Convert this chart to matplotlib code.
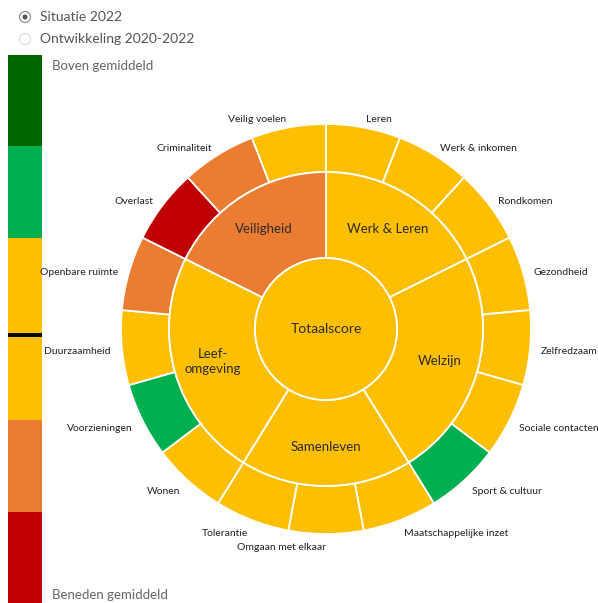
import numpy as np
import matplotlib.pyplot as plt
from matplotlib.patches import Circle

plt.rcParams['font.family'] = ['Lato', 'DejaVu Sans']

# kleuren
GEEL = "#FDBF00"
ORANJE = "#EB7D33"
ROOD = "#C00000"
GROEN = "#00B050"
DONKERGROEN = "#006400"

# buitenring (met de klok mee vanaf boven)
onderwerpen = ["Leren", "Werk & inkomen", "Rondkomen", "Gezondheid", "Zelfredzaam",
               "Sociale contacten", "Sport & cultuur", "Maatschappelijke inzet",
               "Omgaan met elkaar", "Tolerantie", "Wonen", "Voorzieningen",
               "Duurzaamheid", "Openbare ruimte", "Overlast", "Criminaliteit",
               "Veilig voelen"]
kleur_onderwerp = [GEEL, GEEL, GEEL, GEEL, GEEL, GEEL, GROEN, GEEL, GEEL, GEEL,
                   GEEL, GROEN, GEEL, ORANJE, ROOD, ORANJE, GEEL]

# binnenring
thema = ["Werk & Leren", "Welzijn", "Samenleven", "Leef-\nomgeving", "Veiligheid"]
aantal_per_thema = [3, 4, 3, 4, 3]
kleur_thema = [GEEL, GEEL, GEEL, GEEL, ORANJE]

# legenda
legenda_kleuren = [DONKERGROEN, GROEN, GEEL, GEEL, ORANJE, ROOD]

W, H = 598, 603
fig = plt.figure(figsize=(W / 100, H / 100), dpi=100)
ax = fig.add_axes([0, 0, 1, 1])

cx, cy = 326, H - 329
R_buiten, R_midden, R_binnen = 205, 157, 71

ax.pie(np.ones(len(onderwerpen)), colors=kleur_onderwerp, radius=R_buiten,
       center=(cx, cy), startangle=90, counterclock=False,
       wedgeprops=dict(width=R_buiten - R_midden, edgecolor="white", linewidth=1.3))
wedges, _ = ax.pie(aantal_per_thema, colors=kleur_thema, radius=R_midden,
                   center=(cx, cy), startangle=90, counterclock=False,
                   wedgeprops=dict(width=R_midden - R_binnen, edgecolor="white", linewidth=1.3))
ax.add_patch(Circle((cx, cy), R_binnen, facecolor=GEEL, edgecolor="white", linewidth=1.3))
ax.text(cx, cy, "Totaalscore", ha="center", va="center", fontsize=10, color="#2b2b2b")

# labels binnenring
for w, naam in zip(wedges, thema):
    hoek = np.deg2rad((w.theta1 + w.theta2) / 2)
    r = (R_midden + R_binnen) / 2 + 4
    ax.text(cx + r * np.cos(hoek), cy + r * np.sin(hoek), naam, ha="center",
            va="center", fontsize=9.5, color="#2b2b2b", linespacing=1.3)

# labels buitenring
stap = 360 / len(onderwerpen)
for i, naam in enumerate(onderwerpen):
    hoek = 90 - stap * (i + 0.5)
    a = np.deg2rad(hoek)
    x = cx + 216 * np.cos(a)
    y = cy + 216 * np.sin(a) - 3
    links = np.cos(a) < -1e-6 or i == 8
    ax.text(x, y, naam, ha="right" if links else "left", va="center",
            fontsize=7.5, color="#222222")

# legenda balk
seg = (H - 55) / len(legenda_kleuren)
for i, kl in enumerate(legenda_kleuren):
    ax.bar(24.5, seg, width=34, bottom=H - 55 - seg * (i + 1), color=kl, linewidth=0)
ax.bar(24.5, 4, width=34, bottom=H - 55 - 3 * seg - 8, color="black", linewidth=0)
ax.text(52, H - 66, "Boven gemiddeld", fontsize=9.5, color="#666666", va="center")
ax.text(52, H - 595, "Beneden gemiddeld", fontsize=9.5, color="#666666", va="center")

# keuzerondjes
ax.add_patch(Circle((25, H - 17), 5.5, facecolor="white", edgecolor="#888888", linewidth=0.8))
ax.add_patch(Circle((25, H - 17), 2.5, facecolor="#555555", edgecolor="none"))
ax.add_patch(Circle((25, H - 39), 5.5, facecolor="white", edgecolor="#dddddd", linewidth=0.8))
ax.text(40, H - 17, "Situatie 2022", fontsize=10, color="#555555", va="center")
ax.text(40, H - 39, "Ontwikkeling 2020-2022", fontsize=10, color="#555555", va="center")

ax.set_xlim(0, W)
ax.set_ylim(0, H)
ax.set_aspect("equal")
ax.axis("off")
fig.savefig("out.png", dpi=100)
